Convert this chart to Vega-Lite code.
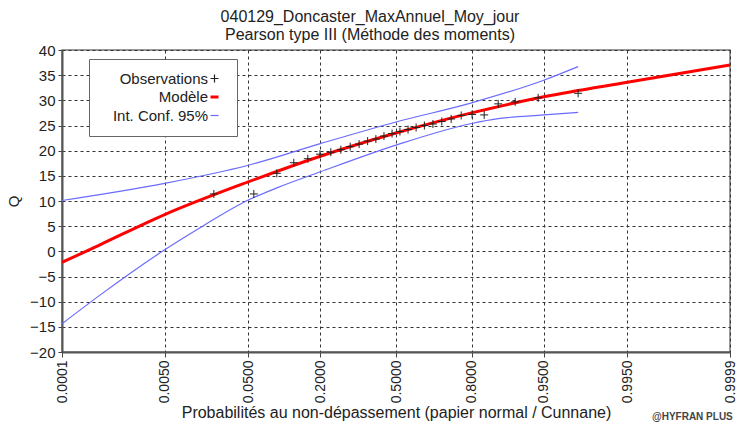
{
  "$schema": "https://vega.github.io/schema/vega-lite/v6.json",
  "width": 668,
  "height": 302,
  "autosize": {"type": "none"},
  "padding": {"left": 62, "top": 50, "right": 6, "bottom": 71},
  "background": "white",
  "config": {
    "font": "Liberation Sans",
    "view": {"stroke": "#777", "strokeWidth": 1.5}
  },
  "title": {
    "text": ["040129_Doncaster_MaxAnnuel_Moy_jour", "Pearson type III (Méthode des moments)"],
    "fontSize": 16,
    "fontWeight": "normal",
    "color": "#222",
    "anchor": "middle",
    "frame": "group",
    "dx": -26,
    "offset": 0,
    "lineHeight": 18
  },
  "datasets": {
    "obs": [
      {"series": "Observations", "z": -2.028, "q": 11.4},
      {"series": "Observations", "z": -1.583, "q": 11.4},
      {"series": "Observations", "z": -1.327, "q": 15.5},
      {"series": "Observations", "z": -1.138, "q": 17.6},
      {"series": "Observations", "z": -0.982, "q": 18.4},
      {"series": "Observations", "z": -0.847, "q": 19.3},
      {"series": "Observations", "z": -0.726, "q": 19.7},
      {"series": "Observations", "z": -0.614, "q": 20.2},
      {"series": "Observations", "z": -0.510, "q": 20.8},
      {"series": "Observations", "z": -0.411, "q": 21.3},
      {"series": "Observations", "z": -0.316, "q": 21.9},
      {"series": "Observations", "z": -0.224, "q": 22.3},
      {"series": "Observations", "z": -0.134, "q": 22.9},
      {"series": "Observations", "z": -0.044, "q": 23.4},
      {"series": "Observations", "z": 0.044, "q": 23.8},
      {"series": "Observations", "z": 0.134, "q": 24.2},
      {"series": "Observations", "z": 0.224, "q": 24.6},
      {"series": "Observations", "z": 0.316, "q": 25.0},
      {"series": "Observations", "z": 0.411, "q": 25.3},
      {"series": "Observations", "z": 0.510, "q": 25.8},
      {"series": "Observations", "z": 0.614, "q": 26.3},
      {"series": "Observations", "z": 0.726, "q": 27.0},
      {"series": "Observations", "z": 0.847, "q": 27.2},
      {"series": "Observations", "z": 0.982, "q": 27.1},
      {"series": "Observations", "z": 1.138, "q": 29.3},
      {"series": "Observations", "z": 1.327, "q": 29.7},
      {"series": "Observations", "z": 1.583, "q": 30.5},
      {"series": "Observations", "z": 2.028, "q": 31.4}
    ],
    "model": [
      {"series": "Modèle", "z": -3.719, "q": -2.2},
      {"series": "Modèle", "z": -3.296, "q": 1.3},
      {"series": "Modèle", "z": -2.576, "q": 7.3},
      {"series": "Modèle", "z": -1.645, "q": 13.8},
      {"series": "Modèle", "z": -0.842, "q": 18.9},
      {"series": "Modèle", "z": 0, "q": 23.5},
      {"series": "Modèle", "z": 0.842, "q": 27.5},
      {"series": "Modèle", "z": 1.645, "q": 30.7},
      {"series": "Modèle", "z": 2.576, "q": 33.6},
      {"series": "Modèle", "z": 3.719, "q": 37.0}
    ],
    "ci": [
      {"series": "Int. Conf. 95%", "bound": "sup", "z": -3.719, "q": 10.1},
      {"series": "Int. Conf. 95%", "bound": "sup", "z": -2.576, "q": 13.5},
      {"series": "Int. Conf. 95%", "bound": "sup", "z": -1.645, "q": 17.1},
      {"series": "Int. Conf. 95%", "bound": "sup", "z": -0.842, "q": 21.4},
      {"series": "Int. Conf. 95%", "bound": "sup", "z": 0, "q": 25.7},
      {"series": "Int. Conf. 95%", "bound": "sup", "z": 0.842, "q": 29.5},
      {"series": "Int. Conf. 95%", "bound": "sup", "z": 1.645, "q": 34.0},
      {"series": "Int. Conf. 95%", "bound": "sup", "z": 2.028, "q": 36.7},
      {"series": "Int. Conf. 95%", "bound": "inf", "z": -3.719, "q": -14.4},
      {"series": "Int. Conf. 95%", "bound": "inf", "z": -3.296, "q": -8.7},
      {"series": "Int. Conf. 95%", "bound": "inf", "z": -2.576, "q": 0.3},
      {"series": "Int. Conf. 95%", "bound": "inf", "z": -2.127, "q": 5.3},
      {"series": "Int. Conf. 95%", "bound": "inf", "z": -1.645, "q": 10.2},
      {"series": "Int. Conf. 95%", "bound": "inf", "z": -1.327, "q": 12.6},
      {"series": "Int. Conf. 95%", "bound": "inf", "z": -0.842, "q": 15.8},
      {"series": "Int. Conf. 95%", "bound": "inf", "z": 0, "q": 21.1},
      {"series": "Int. Conf. 95%", "bound": "inf", "z": 0.842, "q": 25.4},
      {"series": "Int. Conf. 95%", "bound": "inf", "z": 1.158, "q": 26.4},
      {"series": "Int. Conf. 95%", "bound": "inf", "z": 1.645, "q": 27.1},
      {"series": "Int. Conf. 95%", "bound": "inf", "z": 2.028, "q": 27.6}
    ],
    "credit": [
      {"t": "@HYFRAN PLUS", "z": 3.75, "q": -32.9}
    ]
  },
  "encoding": {
    "x": {
      "field": "z",
      "type": "quantitative",
      "scale": {"domain": [-3.719, 3.719], "nice": false, "zero": false},
      "axis": {
        "values": [-3.719, -2.5758, -1.6449, -0.8416, 0, 0.8416, 1.6449, 2.5758, 3.719],
        "labelExpr": "format(cumulativeNormal(datum.value), '.4f')",
        "labelAngle": 270,
        "labelAlign": "right",
        "labelBaseline": "middle",
        "labelPadding": 3,
        "labelFlush": false,
        "labelOverlap": false,
        "labelFontSize": 14,
        "labelColor": "#222",
        "tickSize": 5,
        "tickColor": "#444",
        "grid": true,
        "gridDash": [3, 3],
        "gridColor": "#333",
        "domainColor": "#555",
        "domainWidth": 2,
        "title": "Probabilités au non-dépassement (papier normal / Cunnane)",
        "titleFontSize": 16,
        "titleFontWeight": "normal",
        "titleColor": "#222",
        "titlePadding": 2
      }
    },
    "y": {
      "field": "q",
      "type": "quantitative",
      "scale": {"domain": [-20, 40], "nice": false, "zero": false},
      "axis": {
        "values": [-20, -15, -10, -5, 0, 5, 10, 15, 20, 25, 30, 35, 40],
        "labelFontSize": 15,
        "labelColor": "#222",
        "labelPadding": 3,
        "labelFlush": false,
        "tickSize": 4,
        "tickColor": "#444",
        "grid": true,
        "gridDash": [3, 3],
        "gridColor": "#333",
        "domainColor": "#555",
        "domainWidth": 2,
        "title": "Q",
        "titleFontSize": 15,
        "titleFontWeight": "normal",
        "titleColor": "#222",
        "titlePadding": 8
      }
    }
  },
  "layer": [
    {
      "data": {"name": "ci"},
      "mark": {"type": "line", "strokeWidth": 1.2, "interpolate": "monotone"},
      "encoding": {
        "detail": {"field": "bound"},
        "color": {
          "field": "series",
          "type": "nominal",
          "scale": {
            "domain": ["Observations", "Modèle", "Int. Conf. 95%"],
            "range": ["#222222", "#ff0000", "#6b6bff"]
          },
          "legend": {
            "orient": "none",
            "legendX": 27,
            "legendY": 9,
            "title": null,
            "fillColor": "white",
            "strokeColor": "#666",
            "padding": 12,
            "rowPadding": 2.5,
            "labelFontSize": 15,
            "labelColor": "#222",
            "labelAlign": "right",
            "labelOffset": -14,
            "symbolOffset": 106,
            "symbolSize": 64,
            "symbolStrokeWidth": 1.2,
            "encode": {
              "symbols": {
                "update": {
                  "shape": {"signal": "datum.value === 'Observations' ? 'M-1,0L1,0M0,-1L0,1' : 'M-1,0L1,0'"},
                  "strokeWidth": {"signal": "datum.value === 'Modèle' ? 3 : 1.2"},
                  "fill": {"value": "transparent"},
                  "stroke": {"signal": "scale('color', datum.value)"}
                }
              }
            }
          }
        }
      }
    },
    {
      "data": {"name": "model"},
      "mark": {"type": "line", "strokeWidth": 3, "interpolate": "monotone"},
      "encoding": {
        "color": {"field": "series", "type": "nominal"}
      }
    },
    {
      "data": {"name": "obs"},
      "mark": {"type": "point", "shape": "M-1,0L1,0M0,-1L0,1", "size": 64, "filled": false, "strokeWidth": 1, "opacity": 1},
      "encoding": {
        "color": {"field": "series", "type": "nominal"}
      }
    },
    {
      "data": {"name": "credit"},
      "mark": {"type": "text", "clip": false, "align": "right", "baseline": "middle", "fontSize": 10, "fontWeight": "bold", "color": "#444"},
      "encoding": {
        "text": {"field": "t", "type": "nominal"}
      }
    }
  ]
}
